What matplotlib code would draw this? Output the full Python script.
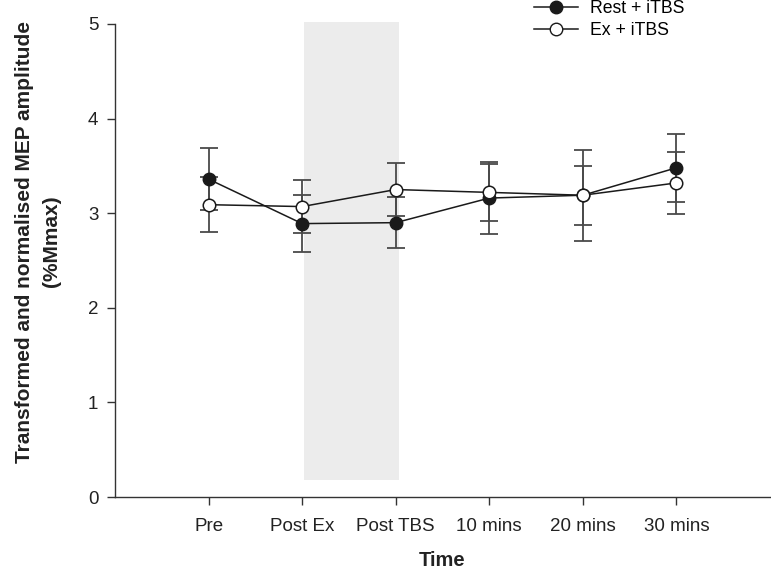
import matplotlib
matplotlib.use("Agg")
import matplotlib.pyplot as plt
from matplotlib.lines import Line2D

categories = ["Pre", "Post Ex", "Post TBS", "10 mins", "20 mins", "30 mins"]
rest_itbs = [3.36, 2.89, 2.90, 3.16, 3.19, 3.48]
rest_err = [0.33, 0.30, 0.27, 0.38, 0.31, 0.36]
ex_itbs = [3.09, 3.07, 3.25, 3.22, 3.19, 3.32]
ex_err = [0.29, 0.28, 0.28, 0.30, 0.48, 0.33]
yticks = [0, 1, 2, 3, 4, 5]

plt.rcParams['font.family'] = ['Liberation Sans', 'DejaVu Sans']

fig = plt.figure(figsize=(7.71, 5.71), dpi=100)
ax = fig.add_axes([115/771, (571-497)/571, (770-115)/771, (497-24)/571])

x = list(range(1, len(categories) + 1))

# shaded region between Post Ex and Post TBS
ax.fill_between([2.02, 3.03], [0.18, 0.18], [5.02, 5.02], color='#ececec', lw=0, zorder=0, clip_on=False)

ecol = '#4a4a4a'
ax.errorbar(x, rest_itbs, yerr=rest_err, fmt='none', ecolor=ecol, elinewidth=1.3,
            capsize=6.5, capthick=1.3, zorder=2)
ax.errorbar(x, ex_itbs, yerr=ex_err, fmt='none', ecolor=ecol, elinewidth=1.3,
            capsize=6.5, capthick=1.3, zorder=2)
ax.plot(x, rest_itbs, '-', color='#1a1a1a', lw=1.1, marker='o', ms=9,
        mfc='#1a1a1a', mec='#1a1a1a', zorder=3)
ax.plot(x, ex_itbs, '-', color='#1a1a1a', lw=1.1, marker='o', ms=9,
        mfc='white', mec='#1a1a1a', mew=1.1, zorder=4)

ax.set_xlim(0, 7)
ax.set_ylim(0, 5)
ax.set_xticks(x)
ax.set_xticklabels(categories, fontsize=13.5)
ax.set_yticks(yticks)
ax.set_yticklabels([str(v) for v in yticks], fontsize=13.5)
ax.tick_params(direction='out', length=6, width=1, color='#333333', labelcolor='#222222')
ax.tick_params(axis='x', pad=9)
ax.tick_params(axis='y', pad=6)
for s in ['top', 'right']:
    ax.spines[s].set_visible(False)
for s in ['left', 'bottom']:
    ax.spines[s].set_color('#333333')
    ax.spines[s].set_linewidth(1.0)

ax.set_xlabel("Time", fontsize=14.5, fontweight='bold', labelpad=12, color='#222222')
ax.set_ylabel("Transformed and normalised MEP amplitude\n(%Mmax)", fontsize=15,
              fontweight='bold', color='#222222', linespacing=1.55)
ax.yaxis.set_label_coords(-0.082, 0.54)

handles = [
    Line2D([], [], color='#1a1a1a', lw=1.1, marker='o', ms=9, mfc='#1a1a1a', mec='#1a1a1a'),
    Line2D([], [], color='#1a1a1a', lw=1.1, marker='o', ms=9, mfc='white', mec='#1a1a1a'),
]
fig.legend(handles, ["Rest + iTBS", "Ex + iTBS"], loc='upper left',
           bbox_to_anchor=(534/771, 1 - 0/571), frameon=False, fontsize=12.7,
           handlelength=2.5, handletextpad=0.7, labelspacing=0.3,
           borderpad=0, borderaxespad=0)

fig.savefig("out.png", dpi=100)
